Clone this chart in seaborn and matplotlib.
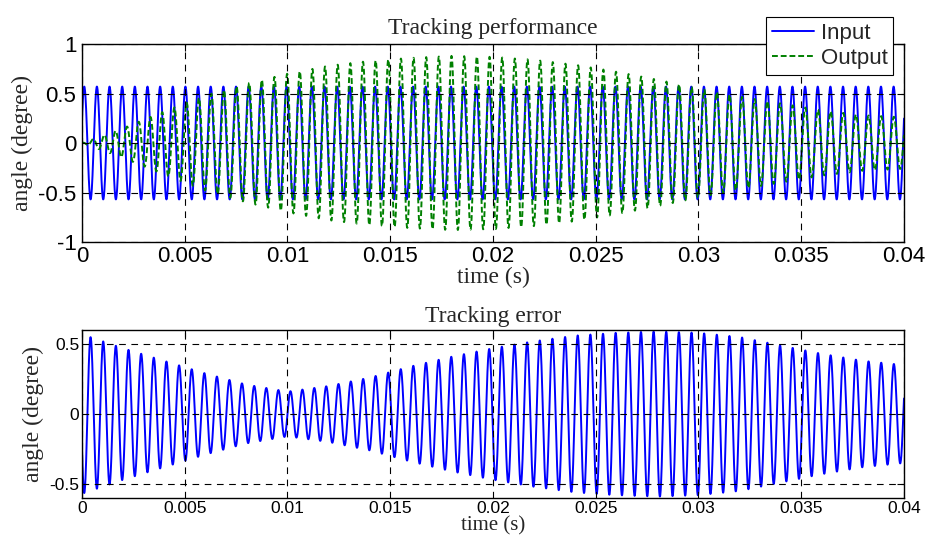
import numpy as np
import pandas as pd
import matplotlib
matplotlib.use("Agg")
import matplotlib.pyplot as plt
import seaborn as sns

# ---------------- data ----------------
t_end = 0.04
carrier_hz = 1625.0          # oscillation frequency of all signals
input_amp = 0.57             # amplitude of the input sine
input_peak_t = 0.00011       # time of the first input peak

# envelope sample times (s)
env_t = [0.0, 0.002, 0.004, 0.006, 0.008, 0.010, 0.012, 0.014, 0.016, 0.018,
         0.020, 0.022, 0.024, 0.026, 0.028, 0.030, 0.032, 0.034, 0.036, 0.038, 0.040]
# output amplitude envelope (degree)
output_env = [0.00, 0.15, 0.32, 0.48, 0.60, 0.70, 0.78, 0.83, 0.86, 0.88,
              0.87, 0.84, 0.79, 0.72, 0.64, 0.55, 0.47, 0.40, 0.33, 0.28, 0.26]
# output phase lag (cycles)
output_lag = [0.80, 0.40, 0.15, 0.05, 0.04, 0.04, 0.04, 0.04, 0.04, 0.04,
              0.05, 0.05, 0.05, 0.05, 0.04, 0.03, 0.02, 0.02, 0.02, 0.02, 0.02]
# tracking-error amplitude envelope (degree)
error_env = [0.57, 0.47, 0.38, 0.29, 0.21, 0.16, 0.20, 0.26, 0.34, 0.41,
             0.47, 0.52, 0.56, 0.58, 0.59, 0.58, 0.55, 0.49, 0.43, 0.38, 0.35]
# tracking-error phase lag relative to input (cycles)
error_lag = [0.50, 0.50, 0.50, 0.50, 0.47, 0.32, 0.12, 0.04, 0.02, 0.02,
             0.02, 0.02, 0.02, 0.02, 0.02, 0.02, 0.02, 0.02, 0.02, 0.02, 0.02]

top_yticks = [-1, -0.5, 0, 0.5, 1]
top_yticklabels = ["-1", "-0.5", "0", "0.5", "1"]
bot_yticks = [-0.5, 0, 0.5]
bot_yticklabels = ["-0.5", "0", "0.5"]
xticks = [0, 0.005, 0.01, 0.015, 0.02, 0.025, 0.03, 0.035, 0.04]
xticklabels = ["0", "0.005", "0.01", "0.015", "0.02", "0.025", "0.03", "0.035", "0.04"]

# ---------------- build signals ----------------
t = np.arange(0, t_end + 1e-9, 1e-5)
ph = 2 * np.pi * carrier_hz * (t - input_peak_t)
inp = input_amp * np.cos(ph)
out = np.interp(t, env_t, output_env) * np.cos(ph - 2 * np.pi * np.interp(t, env_t, output_lag))
err = np.interp(t, env_t, error_env) * np.cos(ph - 2 * np.pi * np.interp(t, env_t, error_lag))

df_top = pd.concat([
    pd.DataFrame({"t": t, "v": inp, "s": "Input"}),
    pd.DataFrame({"t": t, "v": out, "s": "Output"}),
])
df_bot = pd.DataFrame({"t": t, "v": err})

# ---------------- plotting ----------------
sns.set_style("white")
plt.rcParams["font.family"] = ["Liberation Sans", "DejaVu Sans"]
serif = ["Liberation Serif", "DejaVu Serif"]

fig = plt.figure(figsize=(9.28, 5.47), dpi=100)
W, H = 928, 547
ax1 = fig.add_axes([82 / W, 1 - 242 / H, 822 / W, 198 / H])
ax2 = fig.add_axes([82 / W, 1 - 498 / H, 822 / W, 168 / H])

palette = {"Input": (0, 0, 1), "Output": (0, 0.5, 0)}
sns.lineplot(data=df_top, x="t", y="v", hue="s", style="s", palette=palette,
             dashes={"Input": "", "Output": (3, 1.5)}, linewidth=1.4,
             estimator=None, sort=False, ax=ax1)
sns.lineplot(data=df_bot, x="t", y="v", color=(0, 0, 1), linewidth=1.4,
             estimator=None, sort=False, ax=ax2)

for ax, yt, ytl, ylim, tfs in [(ax1, top_yticks, top_yticklabels, (-1, 1), 16),
                              (ax2, bot_yticks, bot_yticklabels, (-0.6, 0.6), 12.5)]:
    ax.set_xlim(0, t_end)
    ax.set_ylim(*ylim)
    ax.set_xticks(xticks)
    ax.set_xticklabels(xticklabels)
    ax.set_yticks(yt)
    ax.set_yticklabels(ytl)
    ax.tick_params(direction="in", length=5, width=0.8, labelsize=tfs, colors="black",
                   pad=2, top=True, right=True)
    ax.grid(True, color="black", linestyle=(0, (6, 5)), linewidth=0.8)
    ax.set_axisbelow(False)
    for sp in ax.spines.values():
        sp.set_visible(True)
        sp.set_color("black")
        sp.set_linewidth(1.0)
    ax.set_ylabel("angle (degree)", family=serif, fontsize=17, labelpad=4)

ax1.tick_params(axis="x", pad=3)
ax1.tick_params(axis="y", pad=4)

ax1.set_title("Tracking performance", family=serif, fontsize=17, pad=7)
ax1.set_xlabel("time (s)", family=serif, fontsize=17, labelpad=0)
ax2.set_title("Tracking error", family=serif, fontsize=17, pad=6)
ax2.set_xlabel("time (s)", family=serif, fontsize=15, labelpad=0)

leg = ax1.legend(loc="upper right", bbox_to_anchor=(0.987, 1.136), fontsize=16,
                 frameon=True, fancybox=False, borderpad=0.25, labelspacing=0.2,
                 handlelength=1.9, handletextpad=0.3, borderaxespad=0)
leg.get_frame().set_edgecolor("black")
leg.get_frame().set_linewidth(0.8)
leg.get_frame().set_alpha(1)
leg.set_title(None)

fig.savefig("out.png", dpi=100, facecolor="white")
